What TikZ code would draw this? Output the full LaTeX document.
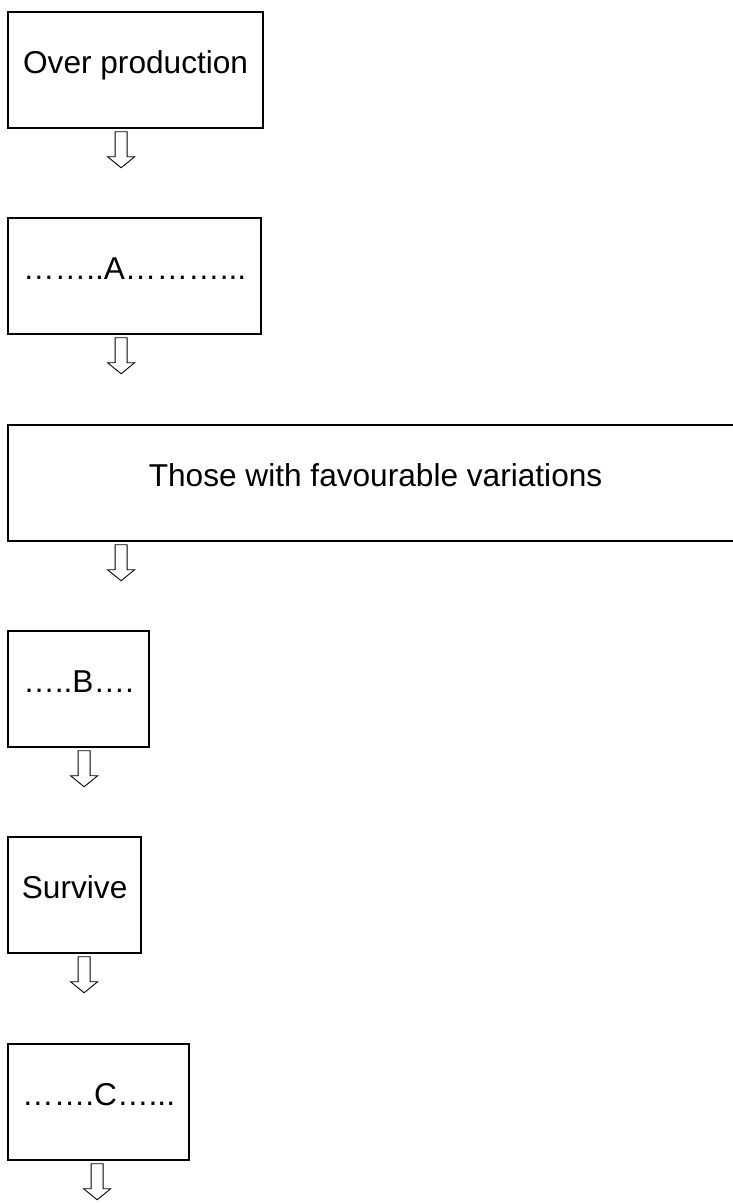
\documentclass[tikz,border=0pt]{standalone}
\usepackage{fontspec}
\setmainfont{Liberation Sans}
\usetikzlibrary{positioning}

\tikzset{
  stage/.style={draw, line width=1.3pt, rectangle, anchor=north west, inner sep=0pt,
                text height=1.22cm, text depth=1.1cm, font=\fontsize{18pt}{21pt}\selectfont},
  arrowline/.style={draw, line width=0.5pt},
  downarrow/.pic={
    \draw[arrowline] (-6,0) -- (-6,25) -- (-13.5,25) -- (0,36) -- (13.5,25) -- (6,25) -- (6,0) -- cycle;
  }
}

\begin{document}
\begin{tikzpicture}[x=0.02cm, y=-0.02cm]
  \useasboundingbox (0,0) rectangle (733,1203);
  \clip (0,0) rectangle (733,1203);

  % Stages
  \node[stage, minimum width=5.1cm, minimum height=2.32cm] (over) at (7,11) {Over production};
  \node[stage, minimum width=5.06cm, minimum height=2.32cm] (a) at (7,217) {……..A………...};
  \node[stage, minimum width=14.7cm, minimum height=2.32cm] (fav) at (7,424) {Those with favourable variations};
  \node[stage, minimum width=2.82cm, minimum height=2.32cm] (b) at (7,630) {…..B….};
  \node[stage, minimum width=2.66cm, minimum height=2.32cm] (surv) at (7,836) {Survive};
  \node[stage, minimum width=3.62cm, minimum height=2.32cm] (c) at (7,1043) {…….C…...};

  % Arrows
  \foreach \b/\dx in {over/-14.5, a/-13.5, fav/-254.5, b/5.5, surv/9.5, c/-1.5} {
    \pic at ([shift={(\dx,2.5)}]\b.south) {downarrow};
  }

\end{tikzpicture}
\end{document}
